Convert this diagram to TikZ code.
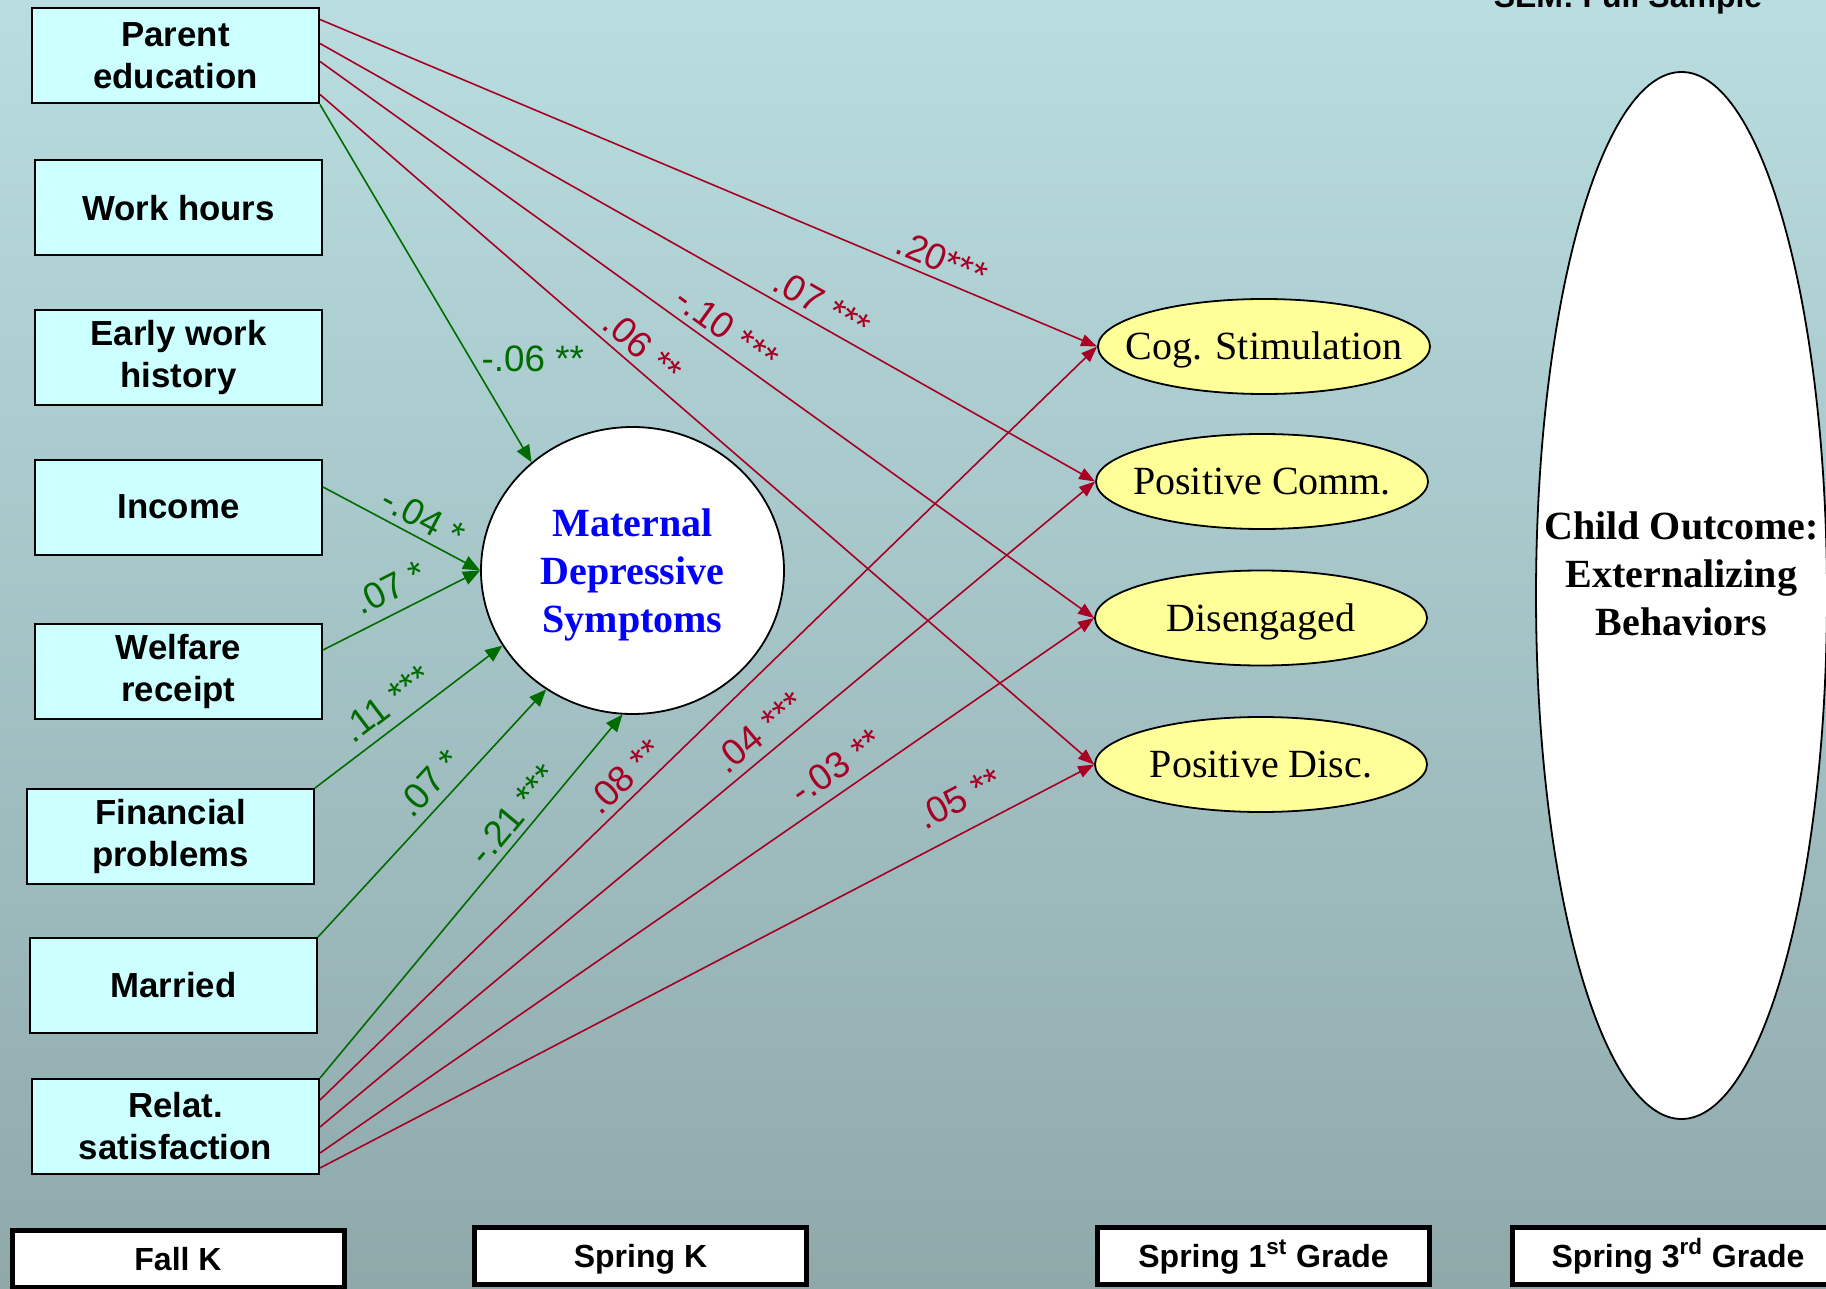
\documentclass[tikz,border=0pt]{standalone}
\usepackage{fontspec}
\setmainfont{Liberation Serif}
\setsansfont{Liberation Sans}
\usetikzlibrary{arrows.meta,shapes.geometric}

\definecolor{bgtop}{RGB}{185,221,224}
\definecolor{bgbot}{RGB}{143,169,171}
\definecolor{boxfill}{RGB}{204,255,255}
\definecolor{ovalfill}{RGB}{255,255,153}
\definecolor{pathred}{RGB}{168,0,36}
\definecolor{pathgreen}{RGB}{0,108,0}

\tikzset{
  varbox/.style={draw, line width=1pt, fill=boxfill, minimum width=143.5pt, minimum height=47.5pt,
    align=center, font=\sffamily\bfseries\fontsize{17.4}{21}\selectfont},
  outcome/.style={ellipse, draw, line width=0.9pt, fill=ovalfill, minimum width=166pt, minimum height=47.5pt,
    inner xsep=-12pt, text height=13.2pt, text depth=0pt, font=\fontsize{20}{24}\selectfont},
  wavebox/.style={draw, line width=2.5pt, fill=white, minimum width=166pt, minimum height=28.5pt,
    text height=11.5pt, text depth=0pt, font=\sffamily\bfseries\fontsize{16}{19}\selectfont},
  redpath/.style={draw=pathred, line width=0.8pt, -{Triangle[length=8pt,width=6pt]}},
  greenpath/.style={draw=pathgreen, line width=0.8pt, -{Triangle[length=8.5pt,width=7pt]}},
  lbl/.style={font=\sffamily\fontsize{18.4}{21}\selectfont},
  redlbl/.style={lbl, sloped, above, text=pathred},
  greenlbl/.style={lbl, sloped, above, text=pathgreen}
}

\begin{document}
\begin{tikzpicture}[x=0.5pt, y=-0.5pt]
  \useasboundingbox (0,0) rectangle (1826,1289);
  \fill[top color=bgtop, bottom color=bgbot] (0,0) rectangle (1826,1289);

  \node[anchor=base, font=\sffamily\bfseries\fontsize{16}{19}\selectfont] (title) at (1628,8) {SEM: Full Sample};

  \foreach \name/\txt/\x/\y in {pe/{Parent\\education}/175.5/56, wh/{Work hours}/178.5/208,
      ew/{Early work\\history}/178.5/357.5, inc/Income/178.5/507, wel/{Welfare\\receipt}/178.5/671,
      fin/{Financial\\problems}/170.5/836.5, mar/Married/173.5/985.5, rel/{Relat.\\satisfaction}/175.5/1126.5} {
    \node[varbox] (\name) at (\x,\y) {\txt};
  }

  \node[ellipse, draw, line width=0.9pt, fill=white, minimum width=151.5pt, minimum height=143.5pt,
    align=center, text=blue, text depth=0pt, font=\bfseries\fontsize{20}{24}\selectfont] (mds) at (632.5,570.5)
    {Maternal\\Depressive\\Symptoms};

  \node[outcome] (cog) at (1264,346.5) {Cog. Stimulation};
  \node[outcome] (pcomm) at (1262,481.5) {Positive Comm.};
  \node[outcome] (dis) at (1261,618) {Disengaged};
  \node[outcome] (pdisc) at (1261,764.5) {Positive Disc.};

  \node[ellipse, draw, line width=0.9pt, fill=white, minimum width=145.5pt, minimum height=523.5pt, inner sep=0pt,
    label={[align=center, yshift=11pt, font=\bfseries\fontsize{20}{24}\selectfont]center:Child Outcome:\\Externalizing\\Behaviors}]
    (ext) at (1681.5,595.5) {};

  \node[wavebox] (fallk) at (178,1259) {Fall K};
  \node[wavebox] (springk) at (640.5,1255.5) {Spring K};
  \node[wavebox] (spring1) at (1263.5,1256) {Spring 1\textsuperscript{st} Grade};
  \node[wavebox] (spring3) at (1678,1256) {Spring 3\textsuperscript{rd} Grade};

  \draw[redpath] ([yshift=-6pt]pe.north east) -- (cog.west) node[redlbl, pos=0.79] {.20***};
  \draw[redpath] ([yshift=-18pt]pe.north east) -- (pcomm.west) node[redlbl, pos=0.635] {.07 ***};
  \draw[redpath] ([yshift=-27pt]pe.north east) -- (dis.west) node[redlbl, pos=0.51] {-.10 ***};
  \draw[redpath] ([yshift=-43.5pt]pe.north east) -- (pdisc.west) node[redlbl, pos=0.4] {.06 **};
  \draw[greenpath] (pe.south east) -- (mds.133) node[lbl, text=pathgreen, pos=0.71, right=2pt] {-.06 **};

  \draw[greenpath] ([yshift=10pt]inc.east) -- (mds.west) node[greenlbl, pos=0.58] {-.04 *};
  \draw[greenpath] ([yshift=10.5pt]wel.east) -- (mds.west) node[greenlbl, pos=0.5, above=2.5pt] {.07 *};
  \draw[greenpath] (fin.north east) -- (mds.210) node[greenlbl, pos=0.46, above=2pt] {.11 ***};
  \draw[greenpath] (mar.north east) -- (mds.234.5) node[greenlbl, pos=0.56, above=1pt] {.07 *};
  \draw[greenpath] (rel.north east) -- (mds.266.5) node[greenlbl, pos=0.69] {-.21 ***};

  \draw[redpath] ([yshift=-11pt]rel.north east) -- (cog.west) node[redlbl, pos=0.41] {.08 **};
  \draw[redpath] ([yshift=-24.5pt]rel.north east) -- (pcomm.west) node[redlbl, pos=0.585, above=1pt] {.04 ***};
  \draw[redpath] ([yshift=-37.5pt]rel.north east) -- (dis.west) node[redlbl, pos=0.685, above=2pt] {-.03 **};
  \draw[redpath] ([yshift=-45pt]rel.north east) -- (pdisc.west) node[redlbl, pos=0.845, above=6pt] {.05 **};
\end{tikzpicture}
\end{document}
